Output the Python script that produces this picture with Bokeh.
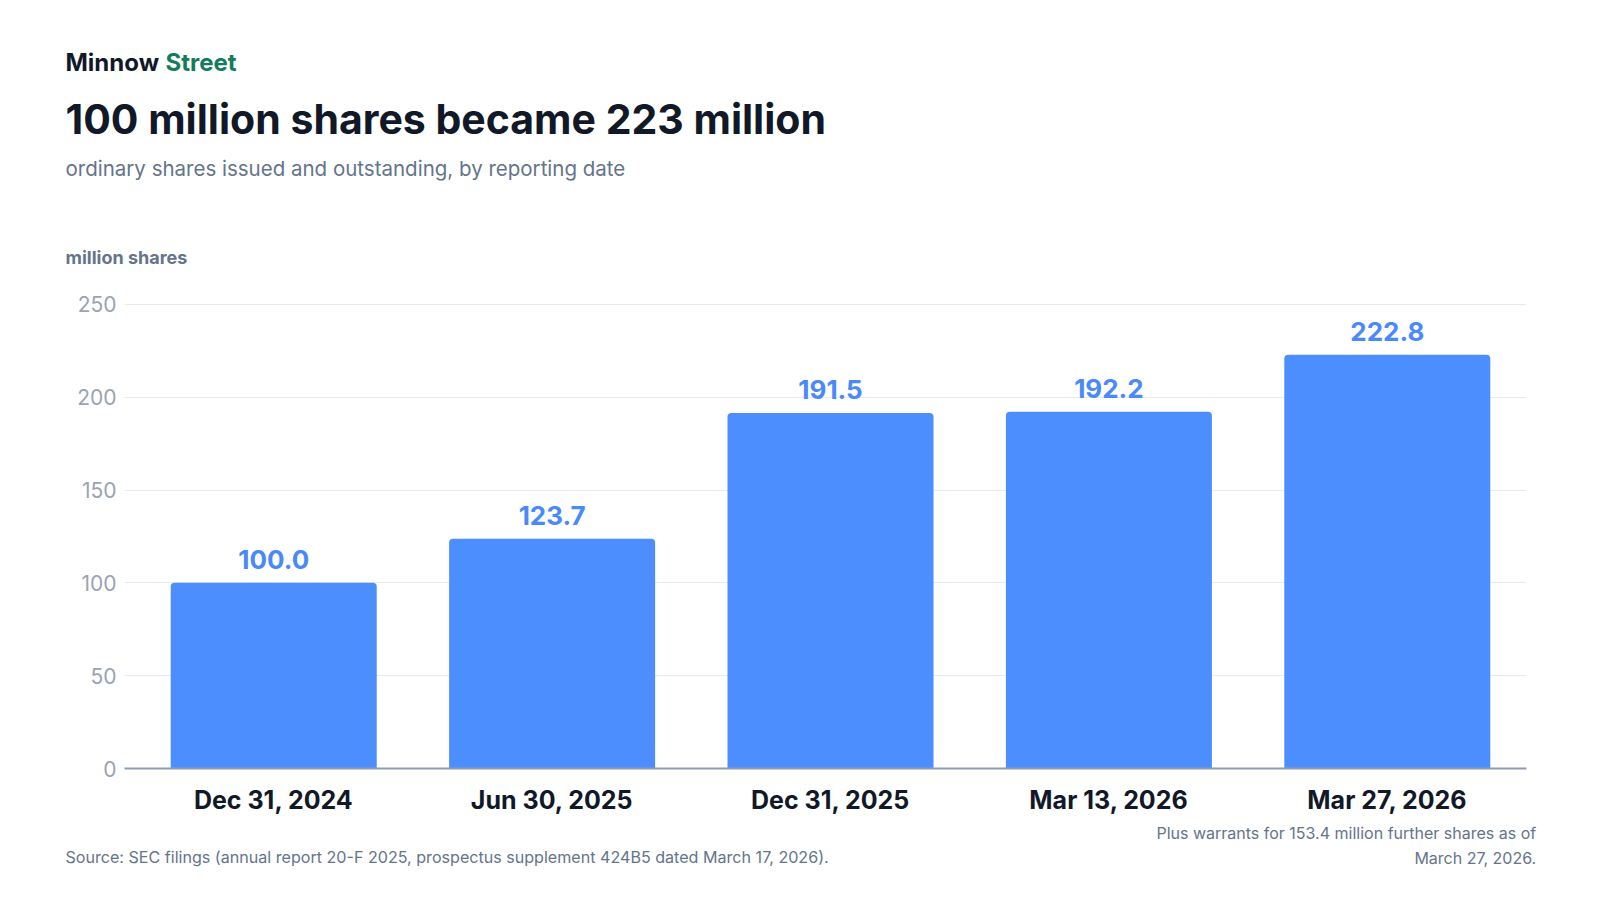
from bokeh.plotting import figure
from bokeh.models import LabelSet, ColumnDataSource, FixedTicker, Range1d
from bokeh.layouts import column
from bokeh.core.properties import value
from bokeh.embed import file_html
from bokeh.resources import INLINE

dates = ["Dec 31, 2024", "Jun 30, 2025", "Dec 31, 2025", "Mar 13, 2026", "Mar 27, 2026"]
shares = [100.0, 123.7, 191.5, 192.2, 222.8]
y_ticks = [0, 50, 100, 150, 200, 250]

FONT = "Inter"
DARK = "#111827"
GRAY = "#64748b"
BLUE = "#4d8eff"
W = 1600


def no_align(f):
    if "frame_align" in f.properties():
        f.frame_align = False
    return f


def text_panel(top, bottom):
    """A blank figure whose data coordinates equal page pixels."""
    f = figure(width=W, height=bottom - top, output_backend="svg", toolbar_location=None,
               x_range=Range1d(0, W), y_range=Range1d(bottom, top),
               x_axis_location=None, y_axis_location=None, min_border=0, title=None)
    f.grid.visible = False
    f.outline_line_color = None
    f.background_fill_color = "white"
    f.border_fill_color = "white"
    return no_align(f)


def txt(f, x, y, s, size, color, style="normal", align="left"):
    f.text(x=[x], y=[y], text=[s], text_font=value(FONT), text_font_size=size,
           text_color=color, text_font_style=style, text_align=align,
           text_baseline="alphabetic")


# ---- header ----
head = text_panel(0, 280)
txt(head, 65, 61.5, "Minnow", "24px", DARK, "bold")
txt(head, 165, 61.5, "Street", "24px", "#137c5b", "bold")
txt(head, 65, 118.5, "100 million shares became 223 million", "41px", DARK, "bold")
txt(head, 65, 167.5, "ordinary shares issued and outstanding, by reporting date", "20.5px", GRAY)
txt(head, 65, 257, "million shares", "18px", GRAY, "bold")

# ---- chart ----
xs = list(range(len(dates)))
src = ColumnDataSource(dict(x=xs, y=shares, lab=[f"{v:.1f}" for v in shares]))

p = figure(width=W, height=542, output_backend="svg", toolbar_location=None,
           x_range=Range1d(-0.536, len(dates) - 0.5), y_range=Range1d(0, 251),
           min_border_left=124, min_border_right=74, min_border_top=22, min_border_bottom=54,
           title=None)
no_align(p)
p.outline_line_color = None
p.background_fill_color = "white"
p.border_fill_color = "white"

p.vbar(x="x", top="y", width=0.74, bottom=0, source=src, fill_color=BLUE, line_color=None,
       border_radius=(4, 4, 0, 0))

p.add_layout(LabelSet(x="x", y="y", text="lab", source=src, y_offset=14,
                      text_align="center", text_baseline="alphabetic",
                      text_font=value(FONT), text_font_size="26px", text_font_style="bold",
                      text_color="#4a89fb"))

p.xgrid.grid_line_color = None
p.ygrid.grid_line_color = "#e8eaee"
p.ygrid.grid_line_width = 1

p.yaxis.ticker = FixedTicker(ticks=y_ticks)
p.yaxis.axis_line_color = None
p.yaxis.major_tick_line_color = None
p.yaxis.minor_tick_line_color = None
p.yaxis.major_label_text_font = FONT
p.yaxis.major_label_text_font_size = "21px"
p.yaxis.major_label_text_color = "#9aa3b4"
p.yaxis.major_label_standoff = 2

p.xaxis.ticker = FixedTicker(ticks=xs)
p.xaxis.major_label_overrides = {i: d for i, d in zip(xs, dates)}
p.xaxis.axis_line_color = "#8f9bb0"
p.xaxis.axis_line_width = 2
p.xaxis.major_tick_line_color = None
p.xaxis.minor_tick_line_color = None
p.xaxis.major_label_text_font = FONT
p.xaxis.major_label_text_font_size = "25px"
p.xaxis.major_label_text_font_style = "bold"
p.xaxis.major_label_text_color = DARK
p.xaxis.major_label_standoff = 10

# ---- footer ----
foot = text_panel(822, 900)
txt(foot, 65, 856.5, "Source: SEC filings (annual report 20-F 2025, prospectus supplement 424B5 dated March 17, 2026).", "16.1px", GRAY)
txt(foot, 1535.7, 832.1, "Plus warrants for 153.4 million further shares as of", "16px", GRAY, align="right")
txt(foot, 1535.7, 857.1, "March 27, 2026.", "16px", GRAY, align="right")

layout = column(head, p, foot, spacing=0)
open("out.html", "w").write(file_html(layout, INLINE))
